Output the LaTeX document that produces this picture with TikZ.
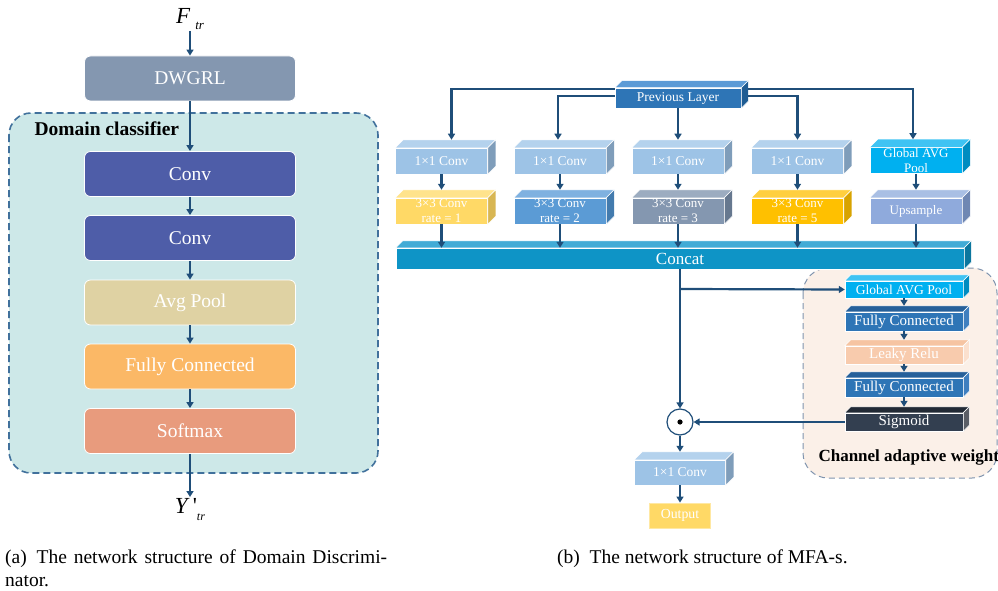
\documentclass[tikz,border=0pt]{standalone}
\usepackage{fontspec}
\setmainfont{Liberation Serif}
\usetikzlibrary{arrows.meta}

\definecolor{arrblue}{HTML}{1F4E79}
\definecolor{clsbg}{HTML}{CDE8E8}
\definecolor{clsline}{HTML}{41719C}
\definecolor{dwgrlc}{HTML}{8497B0}
\definecolor{convc}{HTML}{4E5DA8}
\definecolor{avgc}{HTML}{DFD2A3}
\definecolor{fcc}{HTML}{FBB866}
\definecolor{smc}{HTML}{E89B7D}
\definecolor{cawbg}{HTML}{FBF0E8}
\definecolor{cawline}{HTML}{8094AE}
% 3d blocks: front / top / side
\definecolor{prevf}{HTML}{2E75B6}\definecolor{prevt}{HTML}{5C9BD6}\definecolor{prevs}{HTML}{1F5C93}
\definecolor{onef}{HTML}{9DC3E6}\definecolor{onet}{HTML}{B4D2ED}\definecolor{ones}{HTML}{7F9DBA}
\definecolor{raf}{HTML}{FFD966}\definecolor{rat}{HTML}{FFE38C}\definecolor{ras}{HTML}{D8B653}
\definecolor{rbf}{HTML}{5B9BD5}\definecolor{rbt}{HTML}{7FB1E0}\definecolor{rbs}{HTML}{437BAE}
\definecolor{rcf}{HTML}{8497B0}\definecolor{rct}{HTML}{9CACC0}\definecolor{rcs}{HTML}{66788F}
\definecolor{rdf}{HTML}{FFC000}\definecolor{rdt}{HTML}{FFCF3F}\definecolor{rds}{HTML}{D8A300}
\definecolor{gapf}{HTML}{00B0F0}\definecolor{gapt}{HTML}{3FC3F3}\definecolor{gaps}{HTML}{008CC0}
\definecolor{upsf}{HTML}{8FAADC}\definecolor{upst}{HTML}{A9BFE4}\definecolor{upss}{HTML}{6F87B3}
\definecolor{catf}{HTML}{0E94C6}\definecolor{catt}{HTML}{41ABD6}\definecolor{cats}{HTML}{0B769E}
\definecolor{fcrf}{HTML}{2E75B6}\definecolor{fcrt}{HTML}{26609A}\definecolor{fcrs}{HTML}{3F7FBF}
\definecolor{lrf}{HTML}{F8CBAD}\definecolor{lrt}{HTML}{F6C4A2}\definecolor{lrs}{HTML}{FBE0CE}
\definecolor{sigf}{HTML}{333F50}\definecolor{sigt}{HTML}{222A35}\definecolor{sigs}{HTML}{5A5E66}
\definecolor{outf}{HTML}{FFD966}

% top and side face of a block: node, top colour, side colour, depth
\newcommand{\prismfaces}[4]{%
  \filldraw[fill=#2,draw=white,line width=0.5pt] (#1.north west) -- ([xshift=#4,yshift=#4]#1.north west)
    -- ([xshift=#4,yshift=#4]#1.north east) -- (#1.north east) -- cycle;
  \filldraw[fill=#3,draw=white,line width=0.5pt] (#1.north east) -- ([xshift=#4,yshift=#4]#1.north east)
    -- ([xshift=#4,yshift=#4]#1.south east) -- (#1.south east) -- cycle;}

\tikzset{
  flat/.style={rounded corners=6pt,draw=white,line width=0.8pt,text=white,minimum width=211pt,
    minimum height=45pt,font=\fontsize{19.5}{22}\selectfont},
  cube/.style={draw=white,line width=0.5pt,text=white,minimum width=92pt,minimum height=26pt,
    inner sep=0pt,align=center,font=\fontsize{13}{15}\selectfont},
  stack/.style={cube,minimum width=118pt,minimum height=18pt,font=\fontsize{15}{17}\selectfont},
  arr/.style={draw=arrblue,line width=2.2pt,-{Triangle[length=6pt,width=7pt]}},
}

\begin{document}
\begin{tikzpicture}[x=1pt,y=-1pt]
\useasboundingbox (0,0) rectangle (998,591);

% (a) domain discriminator
\draw[clsline,fill=clsbg,line width=1.6pt,dash pattern=on 7pt off 4pt,rounded corners=22pt] (9,113) rectangle (378,473);
\node[anchor=west,font=\bfseries\fontsize{19.5}{22}\selectfont] (dclass) at (31,129) {Domain classifier};
\node[font=\fontsize{23}{23}\selectfont,inner sep=1pt] (ftr) at (190,19)
  {\textit{F}\hspace{5pt}\raisebox{-6pt}{\fontsize{13}{13}\selectfont\textit{tr}}};
\node[flat,fill=dwgrlc] (dwgrl) at (190,78.5) {DWGRL};
\node[flat,fill=convc] (conva) at (190,174) {Conv};
\node[flat,fill=convc] (convb) at (190,238) {Conv};
\node[flat,fill=avgc] (avg) at (190,302.5) {Avg Pool};
\node[flat,fill=fcc] (fcl) at (190,366.5) {Fully Connected};
\node[flat,fill=smc] (soft) at (190,431) {Softmax};
\node[font=\fontsize{23}{23}\selectfont,inner sep=1pt,anchor=north] (ytr) at (190,497)
  {\textit{Y}\hspace{3pt}\textquotesingle\raisebox{-7pt}{\fontsize{12}{12}\selectfont\textit{tr}}};
\draw[arr] (ftr) -- (dwgrl);
\draw[arr] (dwgrl) -- (conva);
\draw[arr] (conva) -- (convb);
\draw[arr] (convb) -- (avg);
\draw[arr] (avg) -- (fcl);
\draw[arr] (fcl) -- (soft);
\draw[arr] (soft) -- (ytr);
\node[anchor=north west,inner sep=0pt,text width=382pt,align=justify,font=\fontsize{19.5}{23}\selectfont] (capa) at (5,550)
  {(a)\enspace The network structure of Domain Discrimi-\linebreak nator.};

% (b) MFA-s
\draw[cawline,fill=cawbg,line width=1pt,dash pattern=on 6pt off 4pt,rounded corners=25pt] (803,268) rectangle (997,478);
\node[anchor=west,font=\bfseries\fontsize{17}{20}\selectfont] (caw) at (815,457) {Channel adaptive weight};

\node[cube,fill=prevf,minimum width=126pt,minimum height=20pt,font=\fontsize{13.5}{15}\selectfont] (prev) at (678,98) {Previous Layer};
\prismfaces{prev}{prevt}{prevs}{7}

\node[cube,fill=onef,font=\fontsize{13.5}{15}\selectfont] (onea) at (441.5,161) {1×1 Conv};
\prismfaces{onea}{onet}{ones}{8}
\node[cube,fill=onef,font=\fontsize{13.5}{15}\selectfont] (oneb) at (560,161) {1×1 Conv};
\prismfaces{oneb}{onet}{ones}{8}
\node[cube,fill=onef,font=\fontsize{13.5}{15}\selectfont] (onec) at (678,161) {1×1 Conv};
\prismfaces{onec}{onet}{ones}{8}
\node[cube,fill=onef,font=\fontsize{13.5}{15}\selectfont] (oned) at (797.5,161) {1×1 Conv};
\prismfaces{oned}{onet}{ones}{8}
\node[cube,fill=gapf] (gap) at (916,160.5) {Global AVG\\Pool};
\prismfaces{gap}{gapt}{gaps}{8}

\node[cube,fill=raf] (ratea) at (441.5,211) {3×3 Conv\\rate = 1};
\prismfaces{ratea}{rat}{ras}{8}
\node[cube,fill=rbf] (rateb) at (560,211) {3×3 Conv\\rate = 2};
\prismfaces{rateb}{rbt}{rbs}{8}
\node[cube,fill=rcf] (ratec) at (678,211) {3×3 Conv\\rate = 3};
\prismfaces{ratec}{rct}{rcs}{8}
\node[cube,fill=rdf] (rated) at (797.5,211) {3×3 Conv\\rate = 5};
\prismfaces{rated}{rdt}{rds}{8}
\node[cube,fill=upsf] (ups) at (916,211) {Upsample};
\prismfaces{ups}{upst}{upss}{8}

\node[cube,fill=catf,minimum width=568pt,minimum height=21pt,font=\fontsize{17}{19}\selectfont] (concat) at (680,258.5) {Concat};
\prismfaces{concat}{catt}{cats}{7}

\node[stack,fill=gapf,minimum height=17pt,font=\fontsize{13.6}{15}\selectfont] (gapb) at (904,289.5) {Global AVG Pool};
\prismfaces{gapb}{gapt}{gaps}{6}
\node[stack,fill=fcrf,minimum height=19pt] (fca) at (904,321.5) {Fully Connected};
\prismfaces{fca}{fcrt}{fcrs}{6}
\node[stack,fill=lrf] (leaky) at (904,355) {Leaky Relu};
\prismfaces{leaky}{lrt}{lrs}{6}
\node[stack,fill=fcrf,minimum height=19pt] (fcb) at (904,387.5) {Fully Connected};
\prismfaces{fcb}{fcrt}{fcrs}{6}
\node[stack,fill=sigf] (sig) at (904,422) {Sigmoid};
\prismfaces{sig}{sigt}{sigs}{6}

\node[circle,draw=arrblue,line width=1.2pt,fill=white,minimum size=26pt,inner sep=0pt] (dot) at (680,422) {};
\fill (dot) circle (2.6);
\node[cube,fill=onef,minimum width=91pt,minimum height=25pt,font=\fontsize{13.5}{15}\selectfont] (conv) at (680,472.5) {1×1 Conv};
\prismfaces{conv}{onet}{ones}{8}
\node[draw=outf!60!white,line width=0.8pt,fill=outf,text=white,minimum width=61pt,minimum height=25pt,inner sep=0pt,
  font=\fontsize{13.8}{15}\selectfont] (out) at (680,515.5) {Output};

\draw[arr] ([yshift=-1]prev.north west) -| ([xshift=10,yshift=8]onea.north);
\draw[arr] ([yshift=2]prev.west) -| ([xshift=-2,yshift=8]oneb.north);
\draw[arr] (prev.south) -- ([yshift=8]onec.north);
\draw[arr] ([xshift=7,yshift=2]prev.east) -| ([yshift=8]oned.north);
\draw[arr] ([xshift=7,yshift=-1]prev.north east) -| ([xshift=-3,yshift=8]gap.north);

\draw[arr] (onea.south) -- ([yshift=8]ratea.north);
\draw[arr] (oneb.south) -- ([yshift=8]rateb.north);
\draw[arr] (onec.south) -- ([yshift=8]ratec.north);
\draw[arr] (oned.south) -- ([yshift=8]rated.north);
\draw[arr] (gap.south) -- ([yshift=8]ups.north);
\draw[arr] (ratea.south) -- (ratea.south |- concat.north);
\draw[arr] (rateb.south) -- (rateb.south |- concat.north);
\draw[arr] (ratec.south) -- (ratec.south |- concat.north);
\draw[arr] (rated.south) -- (rated.south |- concat.north);
\draw[arr] (ups.south) -- (ups.south |- concat.north);

\draw[arr] (concat.south) -- (dot.north);
\coordinate (branch) at (680,289);
\draw[arr] (branch) -- (gapb.west);
\draw[arr] (gapb.south) -- ([yshift=6]fca.north);
\draw[arr] (fca.south) -- ([yshift=6]leaky.north);
\draw[arr] (leaky.south) -- ([yshift=6]fcb.north);
\draw[arr] (fcb.south) -- ([yshift=6]sig.north);
\draw[arr] (sig.west) -- (dot.east);
\draw[arr] (dot.south) -- ([yshift=8]conv.north);
\draw[arr] (conv.south) -- (out.north);

\node[anchor=north west,inner sep=0pt,font=\fontsize{19.5}{23}\selectfont] (capb) at (557,550)
  {(b)\enspace The network structure of MFA-s.};
\end{tikzpicture}
\end{document}
